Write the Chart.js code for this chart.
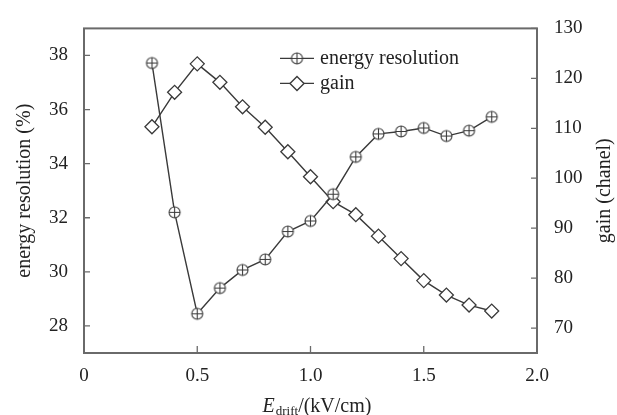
<!DOCTYPE html>
<html>
<head>
<meta charset="utf-8">
<script src="https://cdn.jsdelivr.net/npm/chart.js@4/dist/chart.umd.min.js"></script>
<style>
  html, body { margin: 0; padding: 0; background: #fff; }
</style>
</head>
<body>
<canvas id="chart" width="617" height="415"></canvas>
<script>
var driftField = [0.3, 0.4, 0.5, 0.6, 0.7, 0.8, 0.9, 1.0, 1.1, 1.2, 1.3, 1.4, 1.5, 1.6, 1.7, 1.8];
var energyResolution = [37.72, 32.20, 28.45, 29.40, 30.07, 30.46, 31.49, 31.88, 32.87, 34.25, 35.10, 35.19, 35.32, 35.02, 35.22, 35.73];
var gain = [110.3, 117.2, 122.9, 119.2, 114.3, 110.2, 105.3, 100.3, 95.3, 92.7, 88.4, 83.9, 79.5, 76.6, 74.6, 73.4];
var xTicks = [0, 0.5, 1.0, 1.5, 2.0];
var leftTicks = [28, 30, 32, 34, 36, 38];
var rightTicks = [70, 80, 90, 100, 110, 120, 130];

var serif = "'Liberation Serif', 'Times New Roman', serif";
var ink = '#222';
var lineColor = '#3a3a3a';
var axisColor = '#6a6a6a';

Chart.defaults.font.family = serif;
Chart.defaults.color = ink;

// circle with a plus inside, used as point style
function circlePlus(r) {
  var c = document.createElement('canvas');
  var s = 2 * r + 4;
  c.width = s; c.height = s;
  var g = c.getContext('2d');
  var m = s / 2;
  g.fillStyle = '#fff';
  g.strokeStyle = lineColor;
  g.lineWidth = 1.1;
  g.beginPath(); g.arc(m, m, r, 0, Math.PI * 2); g.fill(); g.stroke();
  g.beginPath();
  g.moveTo(m - r, m); g.lineTo(m + r, m);
  g.moveTo(m, m - r); g.lineTo(m, m + r);
  g.stroke();
  return c;
}
var plusMarker = circlePlus(5.5);

function pts(xs, ys) {
  return xs.map(function (x, i) { return { x: x, y: ys[i] }; });
}

var frameAndTicks = {
  id: 'frameAndTicks',
  beforeDatasetsDraw: function (chart) {
    var a = chart.chartArea, ctx = chart.ctx;
    ctx.save();
    ctx.strokeStyle = axisColor;
    ctx.lineWidth = 2;
    ctx.strokeRect(a.left, a.top, a.right - a.left, a.bottom - a.top);
    ctx.lineWidth = 1.3;
    ctx.beginPath();
    chart.scales.x.ticks.forEach(function (t) {
      var px = chart.scales.x.getPixelForValue(t.value);
      ctx.moveTo(px, a.bottom); ctx.lineTo(px, a.bottom - 7);
    });
    chart.scales.y.ticks.forEach(function (t) {
      var py = chart.scales.y.getPixelForValue(t.value);
      ctx.moveTo(a.left, py); ctx.lineTo(a.left + 6, py);
    });
    chart.scales.y2.ticks.forEach(function (t) {
      var py = chart.scales.y2.getPixelForValue(t.value);
      ctx.moveTo(a.right, py); ctx.lineTo(a.right - 6, py);
    });
    ctx.stroke();
    ctx.restore();
  }
};

var extraText = {
  id: 'extraText',
  afterDraw: function (chart) {
    var a = chart.chartArea, ctx = chart.ctx;
    ctx.save();
    ctx.fillStyle = ink;

    // right axis title, reading bottom to top
    ctx.save();
    ctx.translate(605, (a.top + a.bottom) / 2);
    ctx.rotate(-Math.PI / 2);
    ctx.font = '20px ' + serif;
    ctx.textAlign = 'center';
    ctx.textBaseline = 'middle';
    ctx.fillText('gain (chanel)', 0, 0);
    ctx.restore();

    // x axis title with subscript
    var big = '20px ' + serif, small = '13px ' + serif, ital = 'italic 20px ' + serif;
    ctx.textBaseline = 'alphabetic';
    ctx.textAlign = 'left';
    ctx.font = ital; var w1 = ctx.measureText('E').width;
    ctx.font = small; var w2 = ctx.measureText('drift').width;
    ctx.font = big; var w3 = ctx.measureText('/(kV/cm)').width;
    var x0 = (a.left + a.right) / 2 + 6 - (w1 + w2 + w3) / 2;
    var base = 412;
    ctx.font = ital; ctx.fillText('E', x0, base);
    ctx.font = small; ctx.fillText('drift', x0 + w1 + 1, base + 3);
    ctx.font = big; ctx.fillText('/(kV/cm)', x0 + w1 + w2 + 1, base);

    // legend
    var items = chart.data.datasets;
    var lx = a.left + 196, ly = a.top + 30;
    items.forEach(function (ds, i) {
      var y = ly + i * 25;
      ctx.strokeStyle = lineColor;
      ctx.lineWidth = 1.4;
      ctx.beginPath(); ctx.moveTo(lx, y); ctx.lineTo(lx + 34, y); ctx.stroke();
      var cx = lx + 17;
      if (ds.pointStyle === 'rectRot') {
        ctx.fillStyle = '#fff';
        ctx.beginPath();
        ctx.moveTo(cx, y - 7); ctx.lineTo(cx + 7, y); ctx.lineTo(cx, y + 7); ctx.lineTo(cx - 7, y);
        ctx.closePath(); ctx.fill(); ctx.stroke();
      } else {
        ctx.drawImage(ds.pointStyle, cx - ds.pointStyle.width / 2, y - ds.pointStyle.height / 2);
      }
      ctx.fillStyle = ink;
      ctx.font = '20px ' + serif;
      ctx.textBaseline = 'middle';
      ctx.fillText(ds.label, lx + 40, y);
    });
    ctx.restore();
  }
};

new Chart(document.getElementById('chart'), {
  type: 'line',
  data: {
    datasets: [{
      label: 'energy resolution',
      data: pts(driftField, energyResolution),
      yAxisID: 'y',
      borderColor: lineColor,
      borderWidth: 1.4,
      pointStyle: plusMarker,
      pointRadius: 6,
      tension: 0
    }, {
      label: 'gain',
      data: pts(driftField, gain),
      yAxisID: 'y2',
      borderColor: lineColor,
      borderWidth: 1.4,
      pointStyle: 'rectRot',
      pointRadius: 7,
      pointBackgroundColor: '#fff',
      pointBorderColor: lineColor,
      pointBorderWidth: 1.3,
      tension: 0
    }]
  },
  options: {
    responsive: false,
    animation: false,
    layout: { padding: { top: 15, left: 0, right: 0, bottom: 0 } },
    plugins: { legend: { display: false }, tooltip: { enabled: false } },
    scales: {
      x: {
        type: 'linear',
        min: 0, max: 2,
        afterBuildTicks: function (s) { s.ticks = xTicks.map(function (v) { return { value: v }; }); },
        afterFit: function (s) { s.height = 62; },
        grid: { display: false, drawTicks: false },
        border: { display: false },
        ticks: {
          padding: 12,
          font: { size: 19 },
          color: ink,
          callback: function (v) { return v === 0 ? '0' : v.toFixed(1); }
        }
      },
      y: {
        position: 'left',
        min: 27, max: 39,
        afterBuildTicks: function (s) { s.ticks = leftTicks.map(function (v) { return { value: v }; }); },
        afterFit: function (s) { s.width = 84; },
        grid: { display: false, drawTicks: false },
        border: { display: false },
        ticks: { padding: 16, font: { size: 19 }, color: ink },
        title: {
          display: true,
          text: 'energy resolution (%)',
          font: { size: 20 },
          color: ink,
          padding: { top: 13, bottom: 0 }
        }
      },
      y2: {
        position: 'right',
        min: 65, max: 130,
        afterBuildTicks: function (s) { s.ticks = rightTicks.map(function (v) { return { value: v }; }); },
        afterFit: function (s) { s.width = 80; },
        grid: { display: false, drawTicks: false },
        border: { display: false },
        ticks: { padding: 17, font: { size: 19 }, color: ink }
      }
    }
  },
  plugins: [frameAndTicks, extraText]
});
</script>
</body>
</html>
